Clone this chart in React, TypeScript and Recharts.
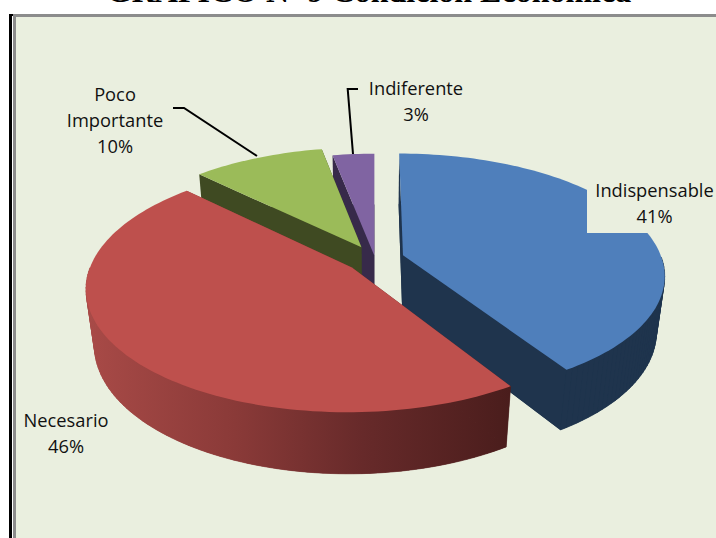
import { PieChart, Pie } from 'recharts'

const CATEGORIES = ['Indispensable', 'Indiferente', 'Poco Importante', 'Necesario']
const VALUES = [41, 3, 9.6, 46.4]

const TOP_COLORS = ['#4F7FBB', '#8064A2', '#9BBB59', '#BE504D']
const WALL_COLORS = ['#1F344D', '#372A4A', '#3F4A22', 'url(#redWall)']
// how far each slice is pulled out, as a share of the radius
const EXPLODE = [0.113, 0.03, 0.113, 0.113]

const BG = '#EAEFDF'
const FONT = '"Open Sans", sans-serif'

// perspective of the tilted pie
const PERSP = 0.158
const TILT = 0.459
const DEPTH_PERSP = 0.029
const DEPTH = 57.4

const total = VALUES.reduce((a, b) => a + b, 0)
// Blue ends at 41% clockwise from 12 o'clock; slices are walked backwards so that
// the red one is painted last and overlaps the blue wall
const START_ANGLE = 90 - (VALUES[0] / total) * 360

const data = CATEGORIES.map((name, i) => ({
  name,
  value: VALUES[i],
  top: TOP_COLORS[i],
  wall: WALL_COLORS[i],
  explode: EXPLODE[i],
}))

const rad = (a: number) => (a * Math.PI) / 180

function Slice3D(props: any) {
  const { cx, cy, outerRadius: R, startAngle, endAngle, payload } = props
  const { top, wall, explode } = payload
  const mid = rad((startAngle + endAngle) / 2)
  const ox = explode * Math.cos(mid)
  const oy = explode * Math.sin(mid)

  const project = (px: number, py: number, z: number) => {
    const s = 1 / (1 + PERSP * py + DEPTH_PERSP * z)
    return [cx + R * px * s, cy - R * TILT * py * s + DEPTH * z * s]
  }

  const steps = Math.max(4, Math.ceil(Math.abs(endAngle - startAngle) / 1.5))
  const angles: number[] = []
  for (let i = 0; i <= steps; i++) angles.push(rad(startAngle + ((endAngle - startAngle) * i) / steps))

  const arc = (z: number) => angles.map((a) => project(ox + Math.cos(a), oy + Math.sin(a), z))

  const toPath = (pts: number[][]) =>
    'M' + pts.map((p) => `${p[0].toFixed(2)},${p[1].toFixed(2)}`).join('L') + 'Z'

  const apexTop = project(ox, oy, 0)
  const apexBottom = project(ox, oy, 1)
  const arcTop = arc(0)
  const arcBottom = arc(1)
  const last = arcTop.length - 1

  return (
    <g>
      <path d={toPath([apexBottom, ...arcBottom])} fill={wall} />
      <path d={toPath([apexTop, arcTop[0], arcBottom[0], apexBottom])} fill={wall} />
      <path d={toPath([apexTop, arcTop[last], arcBottom[last], apexBottom])} fill={wall} />
      {/* outer wall, one quad per step, only on the side facing the viewer */}
      {angles.slice(0, -1).map((a, i) =>
        Math.sin(a) < 0 && Math.sin(angles[i + 1]) < 0 ? (
          <path
            key={i}
            d={toPath([arcTop[i], arcTop[i + 1], arcBottom[i + 1], arcBottom[i]])}
            fill={wall}
            stroke={wall}
            strokeWidth={0.6}
          />
        ) : null
      )}
      <path d={toPath([apexTop, ...arcTop])} fill={top} />
    </g>
  )
}

const LABEL_STYLE: Record<string, { x: number; y: number; lines: string[]; leader?: string; mask?: number[] }> = {
  Indispensable: { x: 654.5, y: 197, lines: ['Indispensable'], mask: [587, 178, 129, 55] },
  Indiferente: {
    x: 416,
    y: 95,
    lines: ['Indiferente'],
    leader: '358,89 347.7,89 353,154',
  },
  'Poco Importante': {
    x: 115,
    y: 101,
    lines: ['Poco', 'Importante'],
    leader: '173,108 184,108 257,156',
  },
  Necesario: { x: 66, y: 427, lines: ['Necesario'] },
}

function SliceLabel(props: any) {
  const { name, percent } = props
  const st = LABEL_STYLE[name]
  if (!st) return null
  const rows = [...st.lines, `${Math.round(percent * 100)}%`]
  return (
    <g>
      {st.mask && <rect x={st.mask[0]} y={st.mask[1]} width={st.mask[2]} height={st.mask[3]} fill={BG} />}
      {st.leader && <polyline points={st.leader} fill="none" stroke="#000" strokeWidth={2} />}
      <text x={st.x} textAnchor="middle" fontFamily={FONT} fontSize={18.3} fill="#111">
        {rows.map((r, i) => (
          <tspan key={i} x={st.x} y={st.y + i * 26}>
            {r}
          </tspan>
        ))}
      </text>
    </g>
  )
}

export default function App() {
  return (
    <div style={{ position: 'absolute', left: 0, top: 0, width: 716, height: 538, overflow: 'hidden', background: '#fff' }}>
      <div
        style={{
          position: 'absolute',
          left: 0,
          width: 716,
          top: -24,
          textAlign: 'center',
          paddingLeft: 22,
          boxSizing: 'border-box',
          fontFamily: '"Liberation Serif", serif',
          fontWeight: 'bold',
          fontSize: 32,
          lineHeight: '30px',
          color: '#000',
          whiteSpace: 'nowrap',
        }}
      >
        GRAFICO Nº 9 Condición Económica
      </div>
      {/* frame */}
      <div style={{ position: 'absolute', left: 9, top: 14, width: 2.5, height: 524, background: '#000' }} />
      <div style={{ position: 'absolute', left: 9, top: 14, width: 5, height: 1.5, background: '#000' }} />
      <div style={{ position: 'absolute', left: 13, top: 14, width: 703, height: 524, background: '#8C8C8C' }} />
      <div style={{ position: 'absolute', left: 15.5, top: 16.5, width: 701, height: 522, background: BG }} />
      <div style={{ position: 'absolute', left: 0, top: 0 }}>
        <PieChart width={716} height={538} margin={{ top: 0, right: 0, bottom: 0, left: 0 }}>
          <defs>
            <linearGradient id="redWall" gradientUnits="userSpaceOnUse" x1="88" y1="0" x2="510" y2="0">
              <stop offset="0%" stopColor="#A84A47" />
              <stop offset="35%" stopColor="#8A3A38" />
              <stop offset="65%" stopColor="#672A2A" />
              <stop offset="100%" stopColor="#4A1D1C" />
            </linearGradient>
          </defs>
          <Pie
            data={data}
            dataKey="value"
            nameKey="name"
            cx={375}
            cy={259}
            innerRadius={0}
            outerRadius={259}
            startAngle={START_ANGLE}
            endAngle={START_ANGLE + 360}
            stroke="none"
            shape={Slice3D}
            label={SliceLabel}
            labelLine={false}
            isAnimationActive={false}
          />
        </PieChart>
      </div>
    </div>
  )
}
